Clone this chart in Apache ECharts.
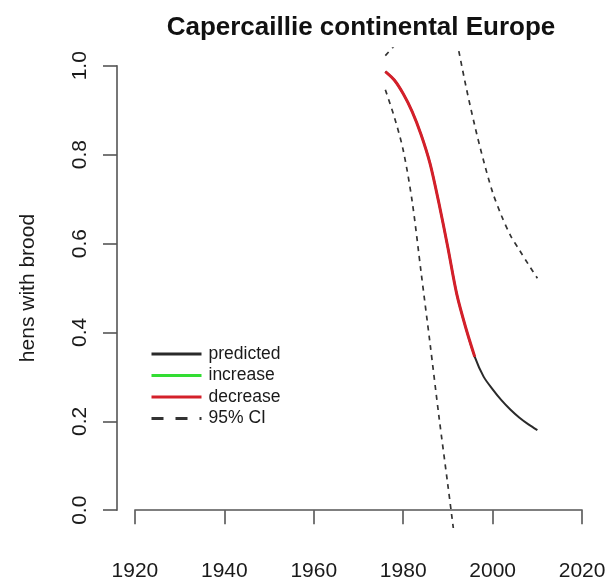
<!DOCTYPE html>
<html>
<head>
<meta charset="utf-8">
<script src="https://cdn.jsdelivr.net/npm/echarts@6/dist/echarts.min.js"></script>
<style>
html,body{margin:0;padding:0;background:#fff;}
#chart{width:610px;height:583px;}
</style>
</head>
<body>
<div id="chart"></div>
<script>
// ---- data ----
const titleText = 'Capercaillie continental Europe';
const yAxisTitle = 'hens with brood';
const xTicks = [1920, 1940, 1960, 1980, 2000, 2020];
const yTicks = [0, 0.2, 0.4, 0.6, 0.8, 1.0];
const legendNames = ['predicted', 'increase', 'decrease', '95% CI'];

const predYears = [1976, 1978, 1980, 1982, 1984, 1986, 1988, 1990, 1992, 1994, 1996, 1998, 2000, 2002, 2004, 2006, 2008, 2010];
const predicted = [0.987, 0.968, 0.937, 0.897, 0.845, 0.780, 0.690, 0.590, 0.485, 0.410, 0.345, 0.300, 0.272, 0.247, 0.226, 0.208, 0.193, 0.180];

const increaseYears = [];
const increase = [];

const decreaseYears = [1976, 1978, 1980, 1982, 1984, 1986, 1988, 1990, 1992, 1994, 1996];
const decrease = [0.987, 0.968, 0.937, 0.897, 0.845, 0.780, 0.690, 0.590, 0.485, 0.410, 0.345];

const ciLowerYears = [1976, 1978, 1980, 1982, 1984, 1986, 1988, 1990, 1991.2];
const ciLower = [0.946, 0.885, 0.810, 0.695, 0.535, 0.375, 0.210, 0.055, -0.04];

const ciUpperEarlyYears = [1976, 1978];
const ciUpperEarly = [1.023, 1.045];

const ciUpperLateYears = [1992, 1994, 1996, 1998, 2000, 2002, 2004, 2006, 2008, 2010];
const ciUpperLate = [1.055, 0.955, 0.865, 0.785, 0.715, 0.662, 0.618, 0.585, 0.553, 0.522];

// ---- layout ----
const FONT = '"Liberation Sans", Arial, Helvetica, sans-serif';
const W = 610, H = 583;
const plotLeft = 117, plotRight = 600, plotTop = 48, plotBottom = 528;
const xMin = 1916, xMax = 2024, yMin = -0.04, yMax = 1.04;
const axXMin = 1920, axXMax = 2020, axYMin = 0, axYMax = 1;
const pxX = (plotRight - plotLeft) / (xMax - xMin);
const pxY = (plotBottom - plotTop) / (yMax - yMin);
const offX = (axXMin - xMin) * pxX;
const offY = (axYMin - yMin) * pxY;

function zip(xs, ys) { return xs.map((x, i) => [x, ys[i]]); }

const axisColor = '#555';
const textColor = '#1a1a1a';

const chart = echarts.init(document.getElementById('chart'), null, {renderer: 'canvas'});

const lineBase = {
  type: 'line', xAxisIndex: 0, yAxisIndex: 0, symbol: 'none', showSymbol: false,
  smooth: 0.3, clip: true, silent: true,
  emphasis: {disabled: true}
};

chart.setOption({
  backgroundColor: '#ffffff',
  animation: false,
  textStyle: {fontFamily: FONT},
  title: {
    text: titleText,
    left: 356, top: 10, textAlign: 'center',
    textStyle: {fontSize: 26, fontWeight: 'bold', color: '#111', fontFamily: FONT}
  },
  legend: {
    orient: 'vertical', left: 150, top: 345, padding: 0,
    itemWidth: 50, itemHeight: 18, itemGap: 3.5,
    selectedMode: false,
    itemStyle: {opacity: 0},
    lineStyle: {width: 3},
    textStyle: {fontSize: 17.5, lineHeight: 18, color: textColor, fontFamily: FONT, padding: [0, 0, 0, 2]},
    data: [
      {name: legendNames[0]},
      {name: legendNames[1]},
      {name: legendNames[2]},
      {name: legendNames[3], lineStyle: {type: [12, 12], width: 3}}
    ]
  },
  grid: [
    {left: plotLeft, right: W - plotRight, top: plotTop, bottom: H - plotBottom, containLabel: false},
    {left: plotLeft + offX, right: W - plotRight + (xMax - axXMax) * pxX,
     top: plotTop + (yMax - axYMax) * pxY, bottom: H - plotBottom + offY, containLabel: false}
  ],
  xAxis: [
    {type: 'value', gridIndex: 0, min: xMin, max: xMax, show: false},
    {type: 'value', gridIndex: 1, min: axXMin, max: axXMax, interval: 20, offset: offY,
     axisLine: {show: true, lineStyle: {color: axisColor, width: 1.6}},
     axisTick: {show: true, length: 14, lineStyle: {color: axisColor, width: 1.6}, customValues: xTicks},
     axisLabel: {show: true, fontSize: 21, color: textColor, margin: 33, fontFamily: FONT,
       customValues: xTicks, showMinLabel: true, showMaxLabel: true,
       formatter: v => String(v)},
     splitLine: {show: false}}
  ],
  yAxis: [
    {type: 'value', gridIndex: 0, min: yMin, max: yMax, show: false},
    {type: 'value', gridIndex: 1, min: axYMin, max: axYMax, interval: 0.2, offset: offX,
     axisLine: {show: true, lineStyle: {color: axisColor, width: 1.6}},
     axisTick: {show: true, length: 14, lineStyle: {color: axisColor, width: 1.6}, customValues: yTicks},
     axisLabel: {show: true, fontSize: 21, color: textColor, margin: 26, rotate: 90, fontFamily: FONT,
       customValues: yTicks, showMinLabel: true, showMaxLabel: true,
       formatter: v => Number(v).toFixed(1)},
     splitLine: {show: false},
     name: yAxisTitle, nameLocation: 'middle', nameGap: 78, nameRotate: 90,
     nameTextStyle: {fontSize: 21, color: textColor, fontFamily: FONT}}
  ],
  series: [
    Object.assign({}, lineBase, {name: legendNames[0], z: 3, data: zip(predYears, predicted),
      itemStyle: {color: '#2a2a2a'}, lineStyle: {color: '#2a2a2a', width: 2}}),
    Object.assign({}, lineBase, {name: legendNames[1], z: 4, data: zip(increaseYears, increase),
      itemStyle: {color: '#33dd33'}, lineStyle: {color: '#33dd33', width: 3}}),
    Object.assign({}, lineBase, {name: legendNames[2], z: 5, data: zip(decreaseYears, decrease),
      itemStyle: {color: '#d4202a'}, lineStyle: {color: '#d4202a', width: 3}}),
    Object.assign({}, lineBase, {name: legendNames[3], z: 2, data: zip(ciLowerYears, ciLower),
      itemStyle: {color: '#333'}, lineStyle: {color: '#333', width: 1.7, type: [5, 5]}}),
    Object.assign({}, lineBase, {name: legendNames[3], z: 2, data: zip(ciUpperEarlyYears, ciUpperEarly),
      itemStyle: {color: '#333'}, lineStyle: {color: '#333', width: 1.7, type: [5, 5]}}),
    Object.assign({}, lineBase, {name: legendNames[3], z: 2, data: zip(ciUpperLateYears, ciUpperLate),
      itemStyle: {color: '#333'}, lineStyle: {color: '#333', width: 1.7, type: [5, 5]}})
  ]
});
</script>
</body>
</html>
